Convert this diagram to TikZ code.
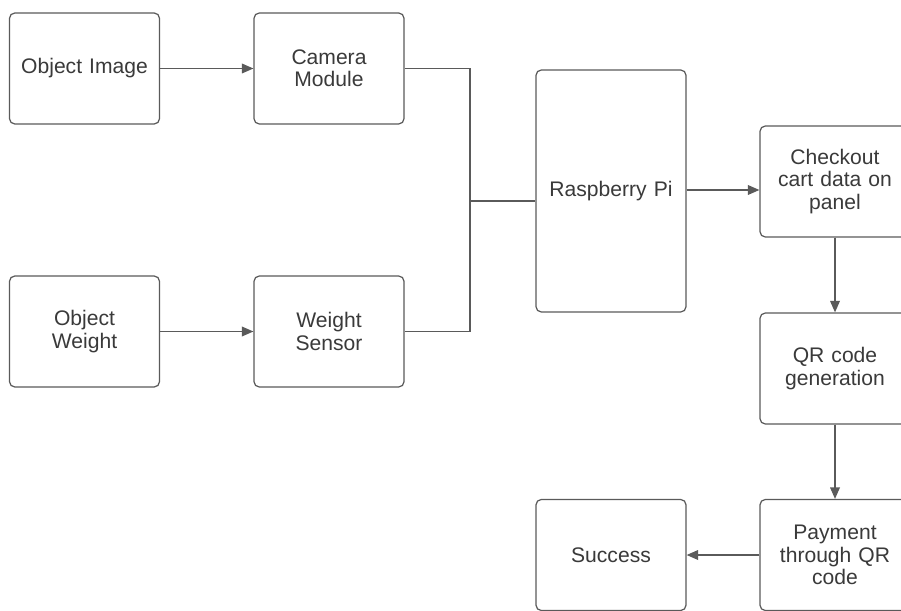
\documentclass[tikz,border=0pt]{standalone}
\usepackage{fontspec}
\setmainfont{Liberation Sans}
\usetikzlibrary{arrows.meta}
\definecolor{linegray}{HTML}{5A5A5A}
\definecolor{textgray}{HTML}{3A3A3A}
\begin{document}
\begin{tikzpicture}[
    font=\fontsize{12}{12.8}\selectfont,
    box/.style={rectangle, draw=linegray, line width=0.7pt, fill=white, text=textgray, text width=2.7cm, align=center, rounded corners=3pt, minimum width=3cm, minimum height=2.22cm},
    tallbox/.style={box, minimum height=4.84cm},
    arrow/.style={-{Triangle[length=6.5pt,width=5.5pt]}, line width=0.7pt, draw=linegray, fill=linegray},
    link/.style={line width=0.7pt, draw=linegray},
]
    \useasboundingbox (0,0) rectangle (18.02,-12.22);
    \clip (0,0) rectangle (18.02,-12.22);

    % Inputs
    \node[box] (image) at (1.69,-1.37) {Object Image};
    \node[box] (camera) at (6.58,-1.37) {Camera\\Module};
    \node[box] (weight) at (1.69,-6.63) {Object\\Weight};
    \node[box] (sensor) at (6.58,-6.63) {Weight\\Sensor};

    % Controller
    \node[tallbox] (rpi) at (12.22,-3.82) {Raspberry Pi};

    % Checkout chain
    \node[box] (checkout) at (16.70,-3.63) {Checkout\\cart data on\\panel};
    \node[box] (qrcode) at (16.70,-7.37) {QR code\\generation};
    \node[box] (payment) at (16.70,-11.10) {Payment\\through QR\\code};
    \node[box] (success) at (12.22,-11.10) {Success};

    % Junction of the two sensor lines
    \coordinate (join) at (9.40,-4.02);
    \coordinate (out) at ([yshift=0.02cm]rpi.east);

    % Arrows from inputs
    \draw[arrow] (image) -- (camera);
    \draw[arrow] (weight) -- (sensor);

    % Merging lines into the Raspberry Pi
    \draw[link] (camera.east) -| (join);
    \draw[link] (sensor.east) -| (join);
    \draw[link] (join) -- (join -| rpi.west);

    % Flow to the panel and payment
    \draw[arrow] (out) -- (out -| checkout.west);
    \draw[arrow] (checkout) -- (qrcode);
    \draw[arrow] (qrcode) -- (payment);
    \draw[arrow] (payment) -- (success);

\end{tikzpicture}
\end{document}
